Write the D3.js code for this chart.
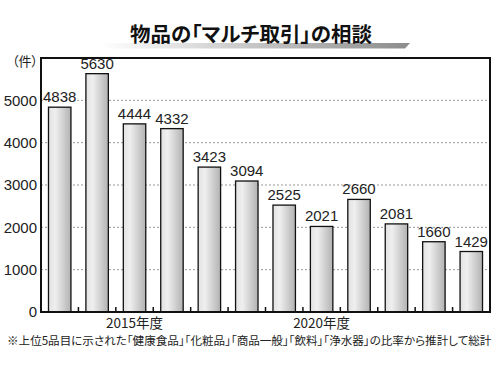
<!DOCTYPE html>
<html>
<head>
<meta charset="utf-8">
<script src="https://cdn.jsdelivr.net/npm/d3@7"></script>
<style>
  body { margin: 0; background: #fff; }
  svg { display: block; font-family: "Liberation Sans", "Noto Sans CJK JP", sans-serif; }
  .jp { font-family: "Noto Sans CJK JP", sans-serif; font-feature-settings: "palt"; }
</style>
</head>
<body>
<svg id="chart"></svg>
<script>
const years = [2013, 2014, 2015, 2016, 2017, 2018, 2019, 2020, 2021, 2022, 2023, 2024];
const counts = [4838, 5630, 4444, 4332, 3423, 3094, 2525, 2021, 2660, 2081, 1660, 1429];
const yTicks = [0, 1000, 2000, 3000, 4000, 5000];
const yearLabels = [2015, 2020];

const width = 500,
      height = 375,
      svg = d3.select("#chart")
              .attr("width", width)
              .attr("height", height),
      plotLeft = 41, plotRight = 490, plotTop = 58, plotBottom = 312;

const data = years.map((yr, i) => ({year: yr, count: counts[i]}));

const x = d3.scaleBand()
    .domain(years)
    .range([plotLeft, plotRight])
    .paddingInner(0.4)
    .paddingOuter(0.2);

const y = d3.scaleLinear()
    .domain([0, 6000])
    .range([plotBottom, plotTop]);

const defs = svg.append("defs");
const barGrad = defs.append("linearGradient")
    .attr("id", "barGrad")
    .attr("x1", "0%").attr("x2", "100%");
barGrad.append("stop").attr("offset", "0%").attr("stop-color", "#e2e2e2");
barGrad.append("stop").attr("offset", "30%").attr("stop-color", "#efefef");
barGrad.append("stop").attr("offset", "100%").attr("stop-color", "#b2b2b2");

const lineGrad = defs.append("linearGradient")
    .attr("id", "lineGrad")
    .attr("x1", "0%").attr("x2", "100%");
lineGrad.append("stop").attr("offset", "0%").attr("stop-color", "#ffffff");
lineGrad.append("stop").attr("offset", "100%").attr("stop-color", "#8c8c8c");

// fit a text to a width by shrinking its font size
function fitWidth(sel, w) {
    const node = sel.node();
    const len = node.getComputedTextLength();
    if (len > 0) {
        const fs = parseFloat(sel.attr("font-size"));
        sel.attr("font-size", fs * w / len);
    }
}

// title
svg.append("path")
    .attr("d", "M100,43 H410 L405,48.5 H100 Z")
    .attr("fill", "url(#lineGrad)");
const title = svg.append("text")
    .attr("class", "jp")
    .attr("x", 251)
    .attr("y", 42)
    .attr("text-anchor", "middle")
    .attr("font-size", 20)
    .attr("font-weight", "bold")
    .attr("fill", "#111")
    .text("物品の「マルチ取引」の相談");
fitWidth(title, 242);

// grid
svg.append("g")
    .selectAll("line")
    .data(yTicks.filter((d) => d > 0))
    .enter().append("line")
        .attr("x1", plotLeft).attr("x2", plotRight)
        .attr("y1", (d) => y(d)).attr("y2", (d) => y(d))
        .attr("stroke", "#999")
        .attr("stroke-width", 1)
        .attr("stroke-dasharray", "2,2");

// y axis labels
svg.append("g")
    .selectAll("text")
    .data(yTicks)
    .enter().append("text")
        .attr("x", 37)
        .attr("y", (d) => y(d))
        .attr("dy", "0.36em")
        .attr("text-anchor", "end")
        .attr("font-size", 15)
        .attr("fill", "#222")
        .text((d) => d);

svg.append("text")
    .attr("class", "jp")
    .attr("x", 25)
    .attr("y", 66)
    .attr("text-anchor", "middle")
    .attr("font-size", 13)
    .attr("fill", "#222")
    .text("（件）");

// bars
const bar = svg.append("g")
    .selectAll(".bar")
    .data(data)
    .enter().append("g")
        .attr("class", "bar");

bar.append("rect")
    .attr("x", (d) => x(d.year))
    .attr("y", (d) => y(d.count))
    .attr("width", x.bandwidth())
    .attr("height", (d) => plotBottom - y(d.count))
    .attr("fill", "url(#barGrad)")
    .attr("stroke", "#111")
    .attr("stroke-width", 1.3);

bar.append("text")
    .attr("x", (d) => x(d.year) + x.bandwidth() / 2)
    .attr("y", (d) => y(d.count) - 5)
    .attr("text-anchor", "middle")
    .attr("font-size", 15)
    .attr("fill", "#222")
    .text((d) => d.count);

// small ticks between bars
const step = x.step();
svg.append("g")
    .selectAll("line")
    .data(years.slice(0, -1))
    .enter().append("line")
        .attr("x1", (d) => x(d) + x.bandwidth() + step * 0.2)
        .attr("x2", (d) => x(d) + x.bandwidth() + step * 0.2)
        .attr("y1", plotBottom)
        .attr("y2", plotBottom - 5)
        .attr("stroke", "#111")
        .attr("stroke-width", 1.5);

// frame
svg.append("rect")
    .attr("x", plotLeft)
    .attr("y", plotTop)
    .attr("width", plotRight - plotLeft)
    .attr("height", plotBottom - plotTop)
    .attr("fill", "none")
    .attr("stroke", "#111")
    .attr("stroke-width", 2);

// year labels
svg.append("g")
    .selectAll("text")
    .data(yearLabels)
    .enter().append("text")
        .attr("class", "jp")
        .attr("x", (d) => x(d) + x.bandwidth() / 2)
        .attr("y", 328)
        .attr("text-anchor", "middle")
        .attr("font-size", 13.5)
        .attr("fill", "#222")
        .text((d) => `${d}年度`);

// footnote
const note = svg.append("text")
    .attr("class", "jp")
    .attr("x", 7)
    .attr("y", 345)
    .attr("font-size", 12)
    .attr("fill", "#222")
    .text("※上位5品目に示された「健康食品」「化粧品」「商品一般」「飲料」「浄水器」の比率から推計して総計");
fitWidth(note, 485);
</script>
</body>
</html>
